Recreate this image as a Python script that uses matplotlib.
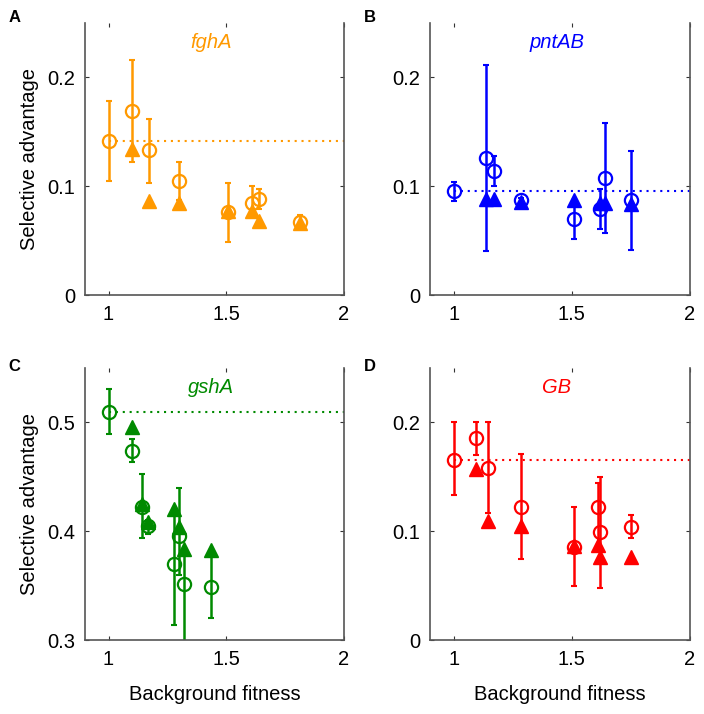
import matplotlib
matplotlib.use('Agg')
import matplotlib.pyplot as plt

plt.rcParams['font.family'] = ['Liberation Sans', 'DejaVu Sans']

# Panel A: fghA
fit_A = [1.0, 1.099, 1.172, 1.30, 1.508, 1.608, 1.639, 1.811]
circ_A = [0.1417, 0.169, 0.133, 0.1047, 0.0759, 0.0844, 0.0883, 0.0674]
lo_A = [0.1047, 0.122, 0.103, 0.087, 0.049, 0.074, 0.079, 0.061]
hi_A = [0.1785, 0.216, 0.162, 0.122, 0.1026, 0.100, 0.0977, 0.074]
tri_A = [0.134, 0.0865, 0.085, 0.0774, 0.0768, 0.0677, 0.066]

# Panel B: pntAB
fit_B = [1.0, 1.139, 1.169, 1.2845, 1.5085, 1.6197, 1.641, 1.7507]
circ_B = [0.0953, 0.1256, 0.1144, 0.0871, 0.0698, 0.0789, 0.1071, 0.0871]
lo_B = [0.0865, 0.0404, 0.100, 0.085, 0.0516, 0.0607, 0.057, 0.041]
hi_B = [0.104, 0.211, 0.128, 0.089, 0.087, 0.097, 0.158, 0.132]
tri_B = [0.0886, 0.0886, 0.0856, 0.0871, 0.085, 0.085, 0.084]

# Panel C: gshA
fit_C = [1.0, 1.0986, 1.1437, 1.1676, 1.2775, 1.30, 1.3197, 1.4338]
circ_C = [0.5097, 0.4733, 0.4227, 0.4052, 0.3703, 0.396, 0.3515, 0.3485]
lo_C = [0.489, 0.4636, 0.3936, 0.397, 0.3142, 0.36, 0.295, 0.3203]
hi_C = [0.531, 0.4845, 0.4527, 0.41, 0.42, 0.44, 0.384, 0.3824]
tri_C = [0.496, 0.4248, 0.4082, 0.4203, 0.4036, 0.3839, 0.3824]

# Panel D: GB
fit_D = [1.0, 1.0944, 1.1437, 1.2845, 1.5085, 1.6127, 1.621, 1.7507]
circ_D = [0.1657, 0.1854, 0.158, 0.1225, 0.0857, 0.1225, 0.0997, 0.1043]
lo_D = [0.133, 0.170, 0.1164, 0.0745, 0.0495, 0.085, 0.048, 0.0942]
hi_D = [0.200, 0.2006, 0.200, 0.171, 0.122, 0.1444, 0.150, 0.1146]
tri_D = [0.157, 0.1094, 0.1049, 0.0866, 0.0875, 0.0766, 0.076]

panels = [
    ('A', 'fghA', '#FF9900', fit_A, circ_A, lo_A, hi_A, tri_A, (0, 0.25), [0, 0.1, 0.2], ['0', '0.1', '0.2']),
    ('B', 'pntAB', '#0000FF', fit_B, circ_B, lo_B, hi_B, tri_B, (0, 0.25), [0, 0.1, 0.2], ['0', '0.1', '0.2']),
    ('C', 'gshA', '#008A00', fit_C, circ_C, lo_C, hi_C, tri_C, (0.3, 0.55), [0.3, 0.4, 0.5], ['0.3', '0.4', '0.5']),
    ('D', 'GB', '#FF0000', fit_D, circ_D, lo_D, hi_D, tri_D, (0, 0.25), [0, 0.1, 0.2], ['0', '0.1', '0.2']),
]

# axes rectangles in figure fractions
rects = [
    [0.1207, 0.5868, 0.368, 0.381],
    [0.6108, 0.5868, 0.3693, 0.381],
    [0.1207, 0.1036, 0.368, 0.381],
    [0.6108, 0.1036, 0.3693, 0.381],
]
letter_pos = [(0.012, 0.975), (0.517, 0.975), (0.012, 0.486), (0.517, 0.486)]

fig = plt.figure(figsize=(7.04, 7.14), dpi=100)

for i, (letter, gene, col, fit, circ, lo, hi, tri, ylim, yt, ytl) in enumerate(panels):
    ax = fig.add_axes(rects[i])
    yerr = [[c - l for c, l in zip(circ, lo)], [h - c for c, h in zip(circ, hi)]]
    ax.errorbar(fit, circ, yerr=yerr, fmt='none', ecolor=col, elinewidth=1.8,
                capsize=2, capthick=1.5, zorder=2)
    ax.plot(fit, circ, 'o', mfc='none', mec=col, mew=1.6, ms=9.5, zorder=3)
    ax.plot(fit[1:], tri, '^', color=col, ms=9.5, zorder=3)
    ax.plot([1, 2], [circ[0], circ[0]], color=col, lw=1.5,
            linestyle=(0, (1, 2.3)), zorder=1)

    ax.set_xlim(0.9, 2)
    ax.set_ylim(*ylim)
    ax.set_xticks([1, 1.5, 2])
    ax.set_xticklabels(['1', '1.5', '2'])
    ax.set_yticks(yt)
    ax.set_yticklabels(ytl)
    ax.tick_params(direction='in', length=3, width=0.8, color='#333333',
                   labelsize=14.5, pad=7, top=True, right=True)
    ax.spines['top'].set_visible(False)
    for s in ['left', 'bottom', 'right']:
        ax.spines[s].set_color('#555555')
        ax.spines[s].set_linewidth(1.2)

    ax.text(0.488, 0.93, gene, transform=ax.transAxes, color=col,
            fontsize=14.5, style='italic', ha='center', va='center')
    fig.text(letter_pos[i][0], letter_pos[i][1], letter, fontsize=12,
             fontweight='bold', ha='left', va='center')

    if i % 2 == 0:
        ax.set_ylabel('Selective advantage', fontsize=14.5, labelpad=6)
    if i >= 2:
        ax.set_xlabel('Background fitness', fontsize=14.5, labelpad=12)

fig.savefig('out.png', dpi=100)
